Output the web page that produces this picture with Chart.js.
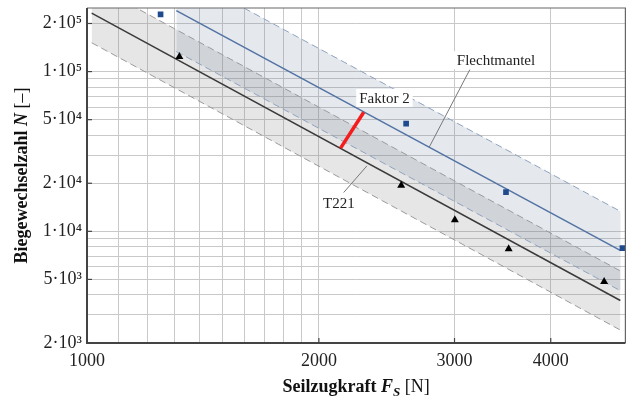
<!DOCTYPE html>
<html>
<head>
<meta charset="utf-8">
<script src="https://cdn.jsdelivr.net/npm/chart.js@4/dist/chart.umd.min.js"></script>
<style>
  html, body { margin: 0; padding: 0; background: #fff; }
  #wrap { width: 630px; height: 398px; }
</style>
</head>
<body>
<div id="wrap"><canvas id="c" width="630" height="398"></canvas></div>
<script>
// ---- data ----
const flechtX = [1246, 2596, 3499, 4956];
const flechtN = [228000, 47200, 17600, 7850];
const t221X = [1318, 2558, 3003, 3527, 4692];
const t221N = [124000, 19400, 11800, 7770, 4840];

// fit lines (end points)
const t221FitX = [1014, 4925];
const t221FitN = [232000, 3690];
const flechtFitX = [1306, 4930];
const flechtFitN = [241000, 7580];

// scatter bands (upper / lower edges)
const t221BandUpper = [355000, 5650];
const t221BandLower = [151500, 2410];
const flechtBandUpper = [423000, 13310];
const flechtBandLower = [133500, 4240];

// "Faktor 2" marker segment
const faktorX = [2287, 2134];
const faktorN = [55600, 33200];

// annotation leader lines
const flechtLeaderX = [3141, 2782];
const flechtLeaderN = [103000, 33700];
const t221LeaderX = [2154, 2309];
const t221LeaderN = [17500, 25700];

// annotation texts (label, x, N)
const noteTexts = ['Flechtmantel', 'Faktor 2', 'T221'];
const noteX = [3396, 2433, 2123];
const noteN = [117800, 68400, 15100];

// axes
const xGridValues = [1000,1100,1200,1300,1400,1500,1600,1700,1800,1900,2000,3000,4000,5000];
const xTickValues = [1000, 2000, 3000, 4000];
const xTickLabels = ['1000', '2000', '3000', '4000'];
const yGridValues = [2000,3000,4000,5000,6000,7000,8000,9000,10000,20000,30000,40000,50000,60000,70000,80000,90000,100000,200000];
const yTickValues = [2000, 5000, 10000, 20000, 50000, 100000, 200000];
const yTickLabels = ['2·10³', '5·10³', '1·10⁴', '2·10⁴', '5·10⁴', '1·10⁵', '2·10⁵'];

const xTitleParts = ['Seilzugkraft ', 'F', 'S', ' [N]'];
const yTitleParts = ['Biegewechselzahl ', 'N', ' [–]'];

const pts = (xs, ys) => xs.map((x, i) => ({ x: x, y: ys[i] }));
const SERIF = '"Liberation Serif", "Times New Roman", serif';

const annotPlugin = {
  id: 'annot',
  afterDatasetsDraw(chart) {
    const ctx = chart.ctx, xs = chart.scales.x, ys = chart.scales.y;
    ctx.save();
    ctx.font = '15px ' + SERIF;
    ctx.textAlign = 'center';
    ctx.textBaseline = 'middle';
    noteTexts.forEach((t, i) => {
      const px = xs.getPixelForValue(noteX[i]);
      const py = ys.getPixelForValue(noteN[i]);
      const w = ctx.measureText(t).width;
      ctx.fillStyle = '#fff';
      ctx.fillRect(px - w / 2 - 3, py - 9, w + 6, 18);
      ctx.fillStyle = '#222';
      ctx.fillText(t, px, py + 1);
    });
    ctx.restore();
  },
  afterDraw(chart) {
    const ctx = chart.ctx, a = chart.chartArea;
    ctx.save();
    // frame
    ctx.strokeStyle = '#666';
    ctx.lineWidth = 1.2;
    ctx.beginPath();
    ctx.moveTo(a.left, a.top); ctx.lineTo(a.right, a.top); ctx.lineTo(a.right, a.bottom);
    ctx.stroke();
    ctx.strokeStyle = '#444';
    ctx.lineWidth = 2;
    ctx.beginPath();
    ctx.moveTo(a.left, a.top); ctx.lineTo(a.left, a.bottom); ctx.lineTo(a.right, a.bottom);
    ctx.stroke();
    // small inward ticks at labelled values
    ctx.lineWidth = 1.2;
    xTickValues.forEach(v => {
      const px = chart.scales.x.getPixelForValue(v);
      ctx.beginPath(); ctx.moveTo(px, a.bottom); ctx.lineTo(px, a.bottom - 5); ctx.stroke();
    });
    yTickValues.forEach(v => {
      const py = chart.scales.y.getPixelForValue(v);
      ctx.beginPath(); ctx.moveTo(a.left, py); ctx.lineTo(a.left + 5, py); ctx.stroke();
    });
    // x title
    ctx.fillStyle = '#111';
    ctx.textBaseline = 'alphabetic';
    ctx.textAlign = 'left';
    const fx = [
      { t: xTitleParts[0], f: 'bold 18px ' + SERIF, dy: 0 },
      { t: xTitleParts[1], f: 'italic bold 18px ' + SERIF, dy: 0 },
      { t: xTitleParts[2], f: 'italic bold 13px ' + SERIF, dy: 4 },
      { t: xTitleParts[3], f: '18px ' + SERIF, dy: 0 }
    ];
    let tw = 0;
    fx.forEach(p => { ctx.font = p.f; p.w = ctx.measureText(p.t).width; tw += p.w; });
    let cx = (a.left + a.right) / 2 - tw / 2;
    const by = 392;
    fx.forEach(p => { ctx.font = p.f; ctx.fillText(p.t, cx, by + p.dy); cx += p.w; });
    // y title
    const fy = [
      { t: yTitleParts[0], f: 'bold 18px ' + SERIF },
      { t: yTitleParts[1], f: 'italic bold 18px ' + SERIF },
      { t: yTitleParts[2], f: '18px ' + SERIF }
    ];
    tw = 0;
    fy.forEach(p => { ctx.font = p.f; p.w = ctx.measureText(p.t).width; tw += p.w; });
    ctx.translate(27, (a.top + a.bottom) / 2);
    ctx.rotate(-Math.PI / 2);
    cx = -tw / 2;
    fy.forEach(p => { ctx.font = p.f; ctx.fillText(p.t, cx, 0); cx += p.w; });
    ctx.restore();
  }
};

const bandEdge = (color) => ({
  borderColor: color, borderWidth: 1, borderDash: [7, 4], pointRadius: 0, showLine: true
});

new Chart(document.getElementById('c'), {
  type: 'scatter',
  data: {
    datasets: [
      Object.assign({ label: 'T221 upper', data: pts(t221FitX, t221BandUpper), fill: '+1',
        backgroundColor: 'rgba(128,128,128,0.2)', order: 10 }, bandEdge('#9a9a9a')),
      Object.assign({ label: 'T221 lower', data: pts(t221FitX, t221BandLower), fill: false, order: 10 }, bandEdge('#9a9a9a')),
      Object.assign({ label: 'Flecht upper', data: pts(flechtFitX, flechtBandUpper), fill: '+1',
        backgroundColor: 'rgba(100,122,152,0.17)', order: 9 }, bandEdge('#8fa2bf')),
      Object.assign({ label: 'Flecht lower', data: pts(flechtFitX, flechtBandLower), fill: false, order: 9 }, bandEdge('#8fa2bf')),
      { label: 'T221 fit', data: pts(t221FitX, t221FitN), showLine: true, borderColor: '#3a3a3a',
        borderWidth: 1.5, pointRadius: 0, order: 5 },
      { label: 'Flecht fit', data: pts(flechtFitX, flechtFitN), showLine: true, borderColor: '#5273a3',
        borderWidth: 1.5, pointRadius: 0, order: 5 },
      { label: 'Faktor 2', data: pts(faktorX, faktorN), showLine: true, borderColor: '#f41c1c',
        borderWidth: 3.5, pointRadius: 0, order: 4 },
      { label: 'leader F', data: pts(flechtLeaderX, flechtLeaderN), showLine: true, borderColor: '#777',
        borderWidth: 1, pointRadius: 0, order: 4 },
      { label: 'leader T', data: pts(t221LeaderX, t221LeaderN), showLine: true, borderColor: '#777',
        borderWidth: 1, pointRadius: 0, order: 4 },
      { label: 'Flechtmantel', data: pts(flechtX, flechtN), pointStyle: 'rect', pointRadius: 4,
        backgroundColor: '#1f4b8e', borderColor: '#1f4b8e', borderWidth: 0, order: 1 },
      { label: 'T221', data: pts(t221X, t221N), pointStyle: 'triangle', pointRadius: 4.6,
        backgroundColor: '#000', borderColor: '#000', borderWidth: 0, order: 1 }
    ]
  },
  options: {
    responsive: false,
    animation: false,
    layout: { padding: { left: 0, right: 3, top: 8, bottom: 0 } },
    plugins: {
      legend: { display: false },
      tooltip: { enabled: false },
      filler: { drawTime: 'beforeDatasetsDraw' }
    },
    scales: {
      x: {
        type: 'logarithmic', min: 1000, max: 5000,
        afterBuildTicks: s => { s.ticks = xGridValues.map(v => ({ value: v })); },
        afterFit: s => { s.height = 55; s.paddingLeft = 0; s.paddingRight = 0; },
        ticks: {
          autoSkip: false, maxRotation: 0, padding: 7, color: '#222',
          font: { family: SERIF, size: 18 },
          callback: v => { const i = xTickValues.indexOf(v); return i >= 0 ? xTickLabels[i] : ''; }
        },
        grid: { color: '#c9c9c9', lineWidth: 1, drawTicks: false },
        border: { display: false }
      },
      y: {
        type: 'logarithmic', min: 2000, max: 250000,
        afterBuildTicks: s => { s.ticks = yGridValues.map(v => ({ value: v })); },
        afterFit: s => { s.width = 87; s.paddingTop = 0; s.paddingBottom = 0; },
        ticks: {
          autoSkip: false, padding: 5, color: '#222',
          font: { family: SERIF, size: 18 },
          callback: v => { const i = yTickValues.indexOf(v); return i >= 0 ? yTickLabels[i] : ''; }
        },
        grid: { color: '#c9c9c9', lineWidth: 1, drawTicks: false },
        border: { display: false }
      }
    }
  },
  plugins: [annotPlugin]
});
</script>
</body>
</html>
